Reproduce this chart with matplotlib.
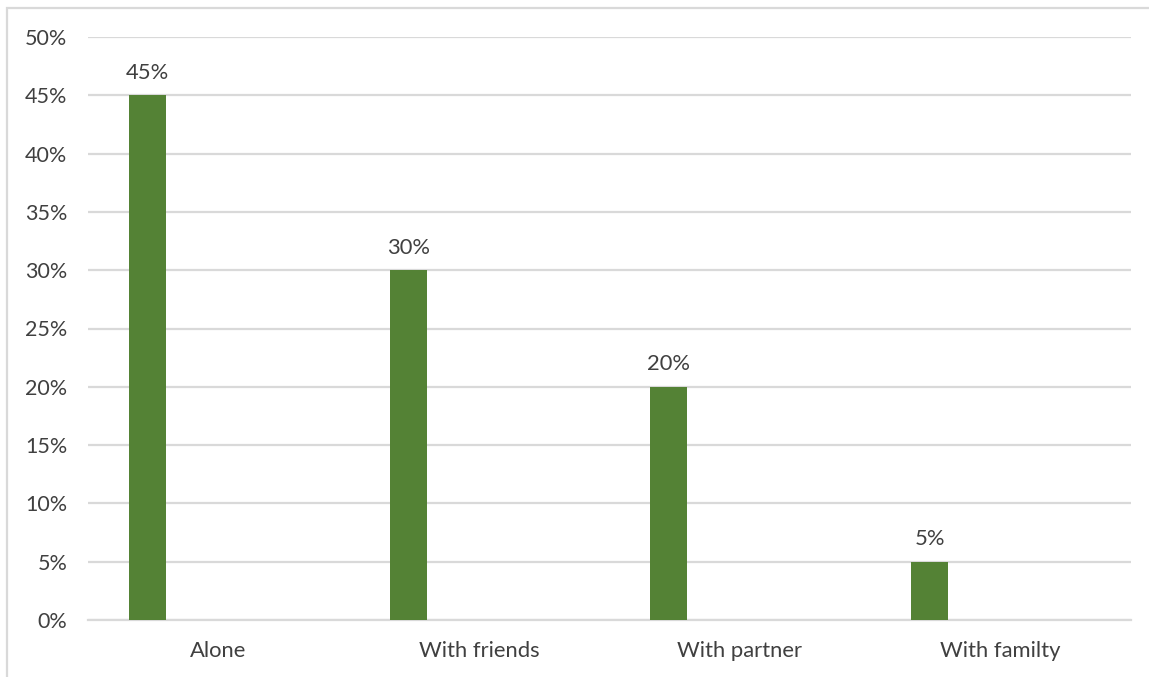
import matplotlib.pyplot as plt
from matplotlib.patches import Rectangle
from matplotlib.ticker import PercentFormatter
import numpy as np

# Dados do gráfico
categorias = ["Alone", "With friends", "With partner", "With familty"]
valores = [45, 30, 20, 5]
ticks_y = [0, 5, 10, 15, 20, 25, 30, 35, 40, 45, 50]

verde = "#548235"
cinza_grade = "#d9d9d9"
cor_texto = "#404040"

plt.rcParams["font.family"] = ["Lato", "DejaVu Sans"]

fig = plt.figure(figsize=(11.49, 6.77), dpi=100)
W, H = 1149, 677
ax = fig.add_axes([88 / W, 57 / H, (1131 - 88) / W, (620 - 37) / H])

# Moldura do gráfico
fig.patches.append(Rectangle((7 / W, -0.05), 1.1, (677 - 8) / H + 0.05,
                             transform=fig.transFigure, fill=False,
                             edgecolor=cinza_grade, linewidth=1.6))

x = np.arange(len(categorias))
deslocamento = -0.272
barras = ax.bar(x + deslocamento, valores, width=0.142, color=verde, zorder=3)

# Rótulos de valor acima das barras
for xi, v in zip(x, valores):
    ax.annotate(f"{v}%", (xi + deslocamento, v), xytext=(0, 9),
                textcoords="offset points", ha="center", va="bottom",
                fontsize=15.8, color=cor_texto)

ax.set_xlim(-0.5, len(categorias) - 0.5)
ax.set_ylim(0, 50)
ax.set_yticks(ticks_y)
ax.yaxis.set_major_formatter(PercentFormatter(decimals=0))
ax.set_xticks(x)
ax.set_xticklabels(categorias)

ax.grid(axis="y", color=cinza_grade, linewidth=1.6, zorder=0)
for lado in ["top", "right", "left"]:
    ax.spines[lado].set_visible(False)
ax.spines["bottom"].set_color(cinza_grade)
ax.spines["bottom"].set_linewidth(1.6)

ax.tick_params(axis="both", length=0, labelcolor=cor_texto)
ax.tick_params(axis="y", pad=15, labelsize=15.5)
ax.tick_params(axis="x", pad=15, labelsize=15.8)

fig.savefig("out.png", dpi=100)
